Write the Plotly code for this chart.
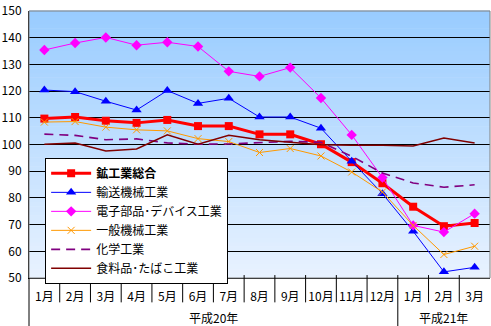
import plotly.graph_objects as go

months = ["1月", "2月", "3月", "4月", "5月", "6月", "7月", "8月", "9月", "10月", "11月", "12月", "1月", "2月", "3月"]
years = ["平成20年"] * 12 + ["平成21年"] * 3
year_labels = ["平成20年", "平成21年"]

sogo = [109.7, 110.3, 108.9, 108.1, 109.2, 106.9, 106.9, 103.8, 103.8, 100.1, 93.4, 85.5, 76.7, 69.4, 70.6]
yuso = [120.4, 119.8, 116.2, 112.9, 120.2, 115.4, 117.3, 110.3, 110.3, 106.1, 93.7, 81.6, 67.5, 52.3, 54.0]
denshi = [135.4, 138.0, 140.1, 137.2, 138.3, 136.7, 127.4, 125.5, 128.8, 117.4, 103.6, 87.6, 69.7, 67.2, 74.1]
ippan = [108.4, 108.6, 106.5, 105.5, 105.1, 102.2, 101.1, 97.0, 98.5, 95.7, 89.7, 82.2, 69.7, 58.8, 61.9]
kagaku = [103.9, 103.4, 101.8, 102.1, 100.6, 100.1, 100.2, 100.6, 101.2, 100.8, 95.6, 89.3, 85.6, 84.0, 84.9]
shokuryo = [100.1, 100.6, 97.6, 98.3, 103.6, 100.1, 103.5, 101.8, 100.8, 99.9, 99.7, 99.7, 99.4, 102.4, 100.6]

names = ["<b>鉱工業総合</b>", "輸送機械工業", "電子部品･デバイス工業", "一般機械工業", "化学工業", "食料品･たばこ工業"]

cats = [y + m for y, m in zip(years, months)]
x = cats
FONT = "Noto Sans CJK JP, Noto Sans, sans-serif"

fig = go.Figure()
fig.add_trace(go.Scatter(x=x, y=sogo, name=names[0], mode="lines+markers",
                         line=dict(color="#FF0000", width=3),
                         marker=dict(symbol="square", size=8, color="#FF0000")))
fig.add_trace(go.Scatter(x=x, y=yuso, name=names[1], mode="lines+markers",
                         line=dict(color="#0000FF", width=1),
                         marker=dict(symbol="triangle-up", size=9, color="#0000FF")))
fig.add_trace(go.Scatter(x=x, y=denshi, name=names[2], mode="lines+markers",
                         line=dict(color="#FF00FF", width=1),
                         marker=dict(symbol="diamond", size=8, color="#FF00FF")))
fig.add_trace(go.Scatter(x=x, y=ippan, name=names[3], mode="lines+markers",
                         line=dict(color="#FF9900", width=1),
                         marker=dict(symbol="x-thin-open", size=7, color="#FF9900",
                                     line=dict(color="#FF9900", width=1))))
fig.add_trace(go.Scatter(x=x, y=kagaku, name=names[4], mode="lines",
                         line=dict(color="#800080", width=1.6, dash="9px,6px")))
fig.add_trace(go.Scatter(x=x, y=shokuryo, name=names[5], mode="lines",
                         line=dict(color="#800000", width=1.5)))

PH = 274.0  # plot height in px
n = len(cats)
n20 = years.count(year_labels[0])

# gradient plot background
shapes = []
N = 60
top = (153, 204, 255)
bot = (232, 242, 255)
for k in range(N):
    t = k / (N - 1)
    c = tuple(round(bot[i] + (top[i] - bot[i]) * t) for i in range(3))
    shapes.append(dict(type="rect", xref="x domain", yref="y domain",
                       x0=0, x1=1, y0=k / N, y1=(k + 1) / N + 0.002,
                       fillcolor="rgb(%d,%d,%d)" % c, line=dict(width=0), layer="below"))
# grey plot border
shapes.append(dict(type="rect", xref="x domain", yref="y domain", x0=0, x1=1, y0=0, y1=1,
                   line=dict(color="#808080", width=1), fillcolor="rgba(0,0,0,0)", layer="above"))
# month separators
for k in range(1, n):
    if k == n20:
        continue
    shapes.append(dict(type="line", xref="x domain", yref="paper", x0=k / n, x1=k / n,
                       y0=3 / PH, y1=-25 / PH, line=dict(color="black", width=1)))
# year dividers
for k in (0, n20):
    shapes.append(dict(type="line", xref="x domain", yref="paper", x0=k / n, x1=k / n,
                       y0=3 / PH if k else 0, y1=-50 / PH, line=dict(color="black", width=1)))

annotations = [
    dict(text=year_labels[0], xref="x domain", yref="paper", x=(n20 / 2) / n, y=-41 / PH,
         showarrow=False, xanchor="center", yanchor="middle", font=dict(family=FONT, size=12)),
    dict(text=year_labels[1], xref="x domain", yref="paper", x=(n20 + (n - n20) / 2) / n, y=-41 / PH,
         showarrow=False, xanchor="center", yanchor="middle", font=dict(family=FONT, size=12)),
]

fig.update_layout(
    width=491, height=326,
    margin=dict(l=29, r=1, t=4, b=48),
    paper_bgcolor="white", plot_bgcolor="rgba(0,0,0,0)",
    font=dict(family=FONT, size=12, color="black"),
    shapes=shapes,
    annotations=annotations,
    showlegend=True,
    legend=dict(x=0.035, y=0.45, xanchor="left", yanchor="top",
                bgcolor="white", bordercolor="black", borderwidth=1,
                font=dict(family=FONT, size=12, color="black"),
                itemwidth=40, tracegroupgap=0),
    xaxis=dict(type="category", tickvals=cats, ticktext=months, range=[-0.5, n - 0.5],
               showgrid=False, showline=True, linecolor="black", linewidth=1,
               ticks="", tickangle=0, ticklabelstandoff=8,
               tickfont=dict(family=FONT, size=12, color="black"), fixedrange=True),
    yaxis=dict(range=[50, 150], dtick=10, tick0=50, showgrid=True, gridcolor="black", gridwidth=1,
               showline=True, linecolor="black", linewidth=1, ticks="", zeroline=False,
               ticklabeloverflow="allow",
               tickfont=dict(family=FONT, size=12, color="black"), ticklabelstandoff=4),
)

fig.write_html("out.html")
